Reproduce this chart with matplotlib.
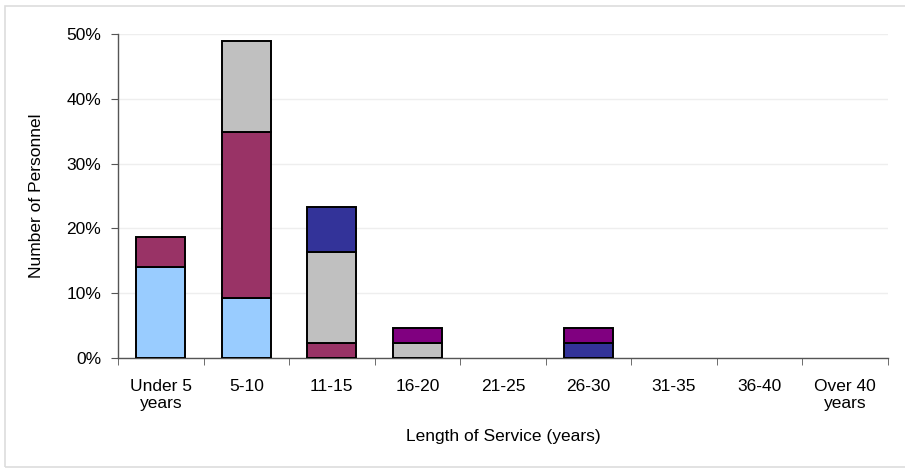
import matplotlib.pyplot as plt
import numpy as np
from matplotlib.patches import Rectangle
from matplotlib.ticker import FuncFormatter, FixedLocator

plt.rcParams['font.family'] = ['Liberation Sans', 'DejaVu Sans']

# categories on the x axis
categories = ['Under 5\nyears', '5-10', '11-15', '16-20', '21-25',
              '26-30', '31-35', '36-40', 'Over 40\nyears']

# stacked series, bottom to top (percent of personnel)
light_blue = [14.0, 9.3, 0, 0, 0, 0, 0, 0, 0]
maroon = [4.7, 25.6, 2.3, 0, 0, 0, 0, 0, 0]
gray = [0, 14.0, 14.0, 2.3, 0, 0, 0, 0, 0]
dark_blue = [0, 0, 7.0, 0, 0, 2.3, 0, 0, 0]
purple = [0, 0, 0, 2.4, 0, 2.4, 0, 0, 0]

series = [light_blue, maroon, gray, dark_blue, purple]
colors = ['#99CCFF', '#993366', '#C0C0C0', '#333399', '#800080']

fig = plt.figure(figsize=(9.05, 4.69), dpi=100)
ax = fig.add_axes([0.1304, 0.2367, 0.8506, 0.6908])

x = np.arange(len(categories))
bottom = np.zeros(len(categories))
for vals, col in zip(series, colors):
    vals = np.array(vals, dtype=float)
    keep = vals > 0  # skip empty segments so no outline is drawn at zero
    ax.bar(x[keep], vals[keep], bottom=bottom[keep], width=0.57, color=col,
           edgecolor='black', linewidth=1.4, zorder=3)
    bottom += vals

ax.set_xlim(-0.5, len(categories) - 0.5)
ax.set_ylim(0, 50)
ax.set_yticks(np.arange(0, 51, 10))
ax.yaxis.set_major_formatter(FuncFormatter(lambda v, p: f'{v:.0f}%'))
ax.grid(axis='y', color='#eeeeee', linewidth=1, zorder=0)

# category labels centred, ticks between categories
ax.set_xticks(x)
ax.set_xticklabels(categories, fontsize=12.5, linespacing=1.15)
ax.tick_params(axis='x', length=0, pad=15)
ax.xaxis.set_minor_locator(FixedLocator(np.arange(-0.5, len(categories), 1)))
ax.tick_params(axis='x', which='minor', length=5, color='#555555', direction='out')
ax.tick_params(axis='y', labelsize=12.5, length=5, color='#555555', pad=7)

for side in ['top', 'right']:
    ax.spines[side].set_visible(False)
for side in ['left', 'bottom']:
    ax.spines[side].set_color('#555555')
    ax.spines[side].set_linewidth(1)

ax.set_ylabel('Number of Personnel', fontsize=12.5, labelpad=16)
ax.set_xlabel('Length of Service (years)', fontsize=12.5, labelpad=13)

# faint outer frame of the original chart
fig.patches.append(Rectangle((0.006, 0.004), 1.2, 0.983, transform=fig.transFigure,
                             fill=False, edgecolor='#dddddd', linewidth=1.2))

fig.savefig('out.png', dpi=100)
